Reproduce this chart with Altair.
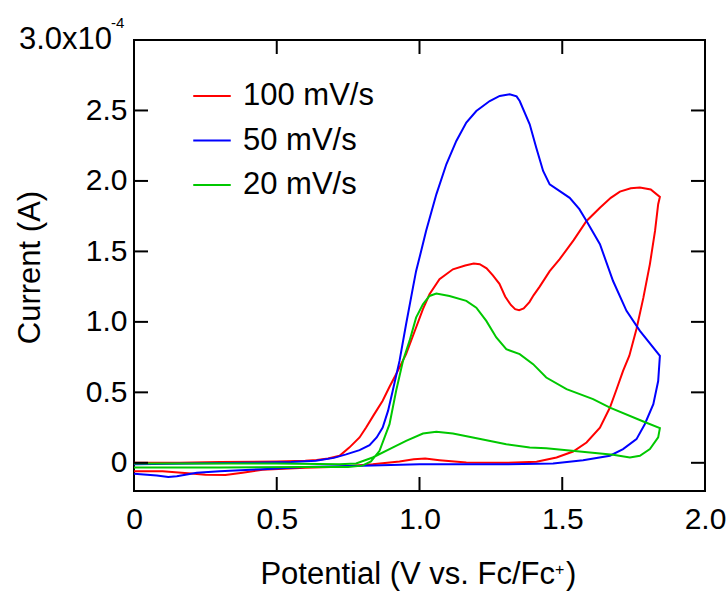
import altair as alt
import pandas as pd

# ---- data (current in units of 1e-4 A, potential in V vs Fc/Fc+) ----
series_names = ["100 mV/s", "50 mV/s", "20 mV/s"]
series_colors = ["#FF0000", "#0000FF", "#00C800"]

red_x = [0.00, 0.16, 0.30, 0.50, 0.60, 0.64, 0.68, 0.72, 0.754, 0.79, 0.813, 0.84, 0.871, 0.895,
         0.918, 0.953, 0.988, 1.012, 1.035, 1.07, 1.117, 1.16, 1.19, 1.211, 1.235, 1.257, 1.28,
         1.30, 1.32, 1.335, 1.349, 1.365, 1.385, 1.40, 1.421, 1.456, 1.491, 1.54, 1.585, 1.632,
         1.67, 1.702, 1.74, 1.772, 1.81, 1.842,
         1.836, 1.825, 1.807, 1.784, 1.76, 1.735, 1.713, 1.69, 1.667, 1.632, 1.585, 1.538,
         1.48, 1.41, 1.30, 1.164, 1.07, 1.02, 0.98, 0.93, 0.836, 0.72, 0.60, 0.45, 0.38, 0.32,
         0.25, 0.20, 0.10, 0.00]
red_y = [0.00, 0.00, 0.005, 0.01, 0.015, 0.02, 0.03, 0.05, 0.108, 0.18, 0.25, 0.34, 0.44, 0.54,
         0.629, 0.771, 0.96, 1.09, 1.196, 1.303, 1.373, 1.40, 1.414, 1.409, 1.38, 1.33, 1.27,
         1.18, 1.12, 1.09, 1.083, 1.095, 1.14, 1.19, 1.25, 1.36, 1.445, 1.58, 1.716, 1.81,
         1.88, 1.924, 1.948, 1.953, 1.94, 1.887,
         1.835, 1.645, 1.41, 1.17, 0.95, 0.76, 0.652, 0.52, 0.392, 0.25, 0.144, 0.08,
         0.038, 0.007, 0.0, 0.002, 0.019, 0.03, 0.025, 0.01, -0.01, -0.028, -0.035, -0.05, -0.07, -0.087,
         -0.085, -0.075, -0.06, -0.06]

blue_x = [0.00, 0.20, 0.40, 0.55, 0.637, 0.70, 0.743, 0.79, 0.825, 0.85, 0.871, 0.89, 0.906, 0.93,
          0.953, 0.977, 0.988, 1.006, 1.023, 1.059, 1.094, 1.129, 1.164, 1.199, 1.246, 1.281,
          1.316, 1.34, 1.351, 1.386, 1.409, 1.433, 1.456, 1.49, 1.526, 1.56, 1.585, 1.632,
          1.678, 1.725, 1.772, 1.842,
          1.836, 1.819, 1.789, 1.76, 1.713, 1.667, 1.573, 1.468, 1.30, 1.00, 0.80, 0.60, 0.45,
          0.30, 0.22, 0.15, 0.12, 0.08, 0.00]
blue_y = [-0.01, -0.005, 0.0, 0.005, 0.015, 0.035, 0.06, 0.09, 0.125, 0.18, 0.25, 0.37, 0.51, 0.723,
          0.983, 1.243, 1.36, 1.504, 1.645, 1.905, 2.118, 2.284, 2.414, 2.496, 2.567, 2.603,
          2.615, 2.60, 2.567, 2.402, 2.236, 2.071, 1.976, 1.93, 1.88, 1.80, 1.716, 1.551,
          1.29, 1.078, 0.936, 0.759,
          0.58, 0.416, 0.274, 0.168, 0.097, 0.05, 0.019, -0.005, -0.01, -0.01, -0.02, -0.03, -0.045,
          -0.06, -0.07, -0.095, -0.10, -0.09, -0.078]

green_x = [0.00, 0.30, 0.60, 0.75, 0.80, 0.83, 0.86, 0.895, 0.918, 0.942, 0.965, 0.988, 1.012,
           1.035, 1.059, 1.105, 1.164, 1.199, 1.234, 1.269, 1.304, 1.351, 1.398, 1.444, 1.515,
           1.608, 1.667, 1.784, 1.842,
           1.836, 1.807, 1.772, 1.737, 1.678, 1.561, 1.444, 1.386, 1.304, 1.187, 1.117, 1.059,
           1.012, 0.953, 0.895, 0.836, 0.778, 0.719, 0.50, 0.30, 0.00]
green_y = [-0.033, -0.033, -0.03, -0.03, -0.02, 0.01, 0.085, 0.274, 0.51, 0.723, 0.865, 1.03, 1.125,
           1.184, 1.201, 1.184, 1.149, 1.101, 1.007, 0.889, 0.806, 0.771, 0.70, 0.605, 0.523,
           0.452, 0.392, 0.293, 0.246,
           0.18, 0.097, 0.05, 0.038, 0.057, 0.08, 0.104, 0.108, 0.132, 0.18, 0.208, 0.22,
           0.208, 0.156, 0.097, 0.038, -0.005, -0.01, -0.005, -0.005, -0.005]

x_tick_values = [0.0, 0.5, 1.0, 1.5, 2.0]
x_inner_ticks = [0.5, 1.0, 1.5]
y_tick_values = [0.0, 0.5, 1.0, 1.5, 2.0, 2.5]

rows = []
for name, xs_, ys_ in zip(series_names, [red_x, blue_x, green_x], [red_y, blue_y, green_y]):
    for i, (a, b) in enumerate(zip(xs_, ys_)):
        rows.append({"series": name, "order": i, "potential": a, "current": b})
df = pd.DataFrame(rows)

W, H = 571, 451
FONT = "Liberation Sans"
TICK = 14

xscale = alt.Scale(domain=[0, 2.0], nice=False, zero=False)
yscale = alt.Scale(domain=[-0.2, 3.0], nice=False, zero=False)
lab = "datum.value == 0 ? '0' : format(datum.value, '.1f')"

lines = alt.Chart(df).mark_line(strokeWidth=2, clip=True).encode(
    x=alt.X("potential:Q", scale=xscale,
            axis=alt.Axis(values=x_tick_values, labelExpr=lab, title=None, ticks=False, tickSize=0,
                          domain=False, grid=False, labelFontSize=30, labelFont=FONT,
                          labelColor="black", labelPadding=13, labelFlush=False)),
    y=alt.Y("current:Q", scale=yscale,
            axis=alt.Axis(values=y_tick_values, labelExpr=lab, title="Current (A)", ticks=False,
                          tickSize=0, domain=False, grid=False, labelFontSize=30, labelFont=FONT,
                          labelColor="black", labelPadding=7, labelFlush=False,
                          titleFont=FONT, titleFontSize=31, titleFontWeight="normal",
                          titleColor="black", titleX=-104, titleY=227, titleAngle=270,
                          titleAlign="center", titleBaseline="middle")),
    color=alt.Color("series:N", scale=alt.Scale(domain=series_names, range=series_colors),
                    legend=alt.Legend(orient="none", legendX=58, legendY=36, title=None,
                                      symbolType="stroke", symbolSize=1406, symbolStrokeWidth=2,
                                      labelFontSize=31, labelFont=FONT, labelColor="black",
                                      labelOffset=11, rowPadding=9.5, padding=0, labelLimit=0)),
    order="order:Q",
    detail="series:N",
)

ytick_df = pd.DataFrame({"v": y_tick_values})
xtick_df = pd.DataFrame({"v": x_inner_ticks})

left_ticks = alt.Chart(ytick_df).mark_rule(color="black", strokeWidth=2).encode(
    y=alt.Y("v:Q", scale=yscale), x=alt.value(0), x2=alt.value(TICK))
right_ticks = alt.Chart(ytick_df).mark_rule(color="black", strokeWidth=2).encode(
    y=alt.Y("v:Q", scale=yscale), x=alt.value(W - TICK), x2=alt.value(W))
bottom_ticks = alt.Chart(xtick_df).mark_rule(color="black", strokeWidth=2).encode(
    x=alt.X("v:Q", scale=xscale), y=alt.value(H - TICK), y2=alt.value(H))
top_ticks = alt.Chart(xtick_df).mark_rule(color="black", strokeWidth=2).encode(
    x=alt.X("v:Q", scale=xscale), y=alt.value(0), y2=alt.value(TICK))

ann = pd.DataFrame({"t": [0]})
top_label = alt.Chart(ann).mark_text(text="3.0x10", align="right", baseline="alphabetic",
                                     fontSize=31, font=FONT, color="black").encode(
    x=alt.value(112 - 134), y=alt.value(48.5 - 40))
top_sup = alt.Chart(ann).mark_text(text="-4", align="left", baseline="alphabetic",
                                   fontSize=15, font=FONT, color="black").encode(
    x=alt.value(111 - 134), y=alt.value(28 - 40))
xtitle_main = alt.Chart(ann).mark_text(text="Potential (V vs. Fc/Fc", align="right",
                                       baseline="alphabetic", fontSize=31, font=FONT,
                                       color="black").encode(
    x=alt.value(555 - 134), y=alt.value(584 - 40))
xtitle_sup = alt.Chart(ann).mark_text(text="+", align="left", baseline="alphabetic",
                                      fontSize=16, font=FONT, color="black").encode(
    x=alt.value(555 - 134), y=alt.value(575 - 40))
xtitle_end = alt.Chart(ann).mark_text(text=")", align="left", baseline="alphabetic",
                                      fontSize=31, font=FONT, color="black").encode(
    x=alt.value(566 - 134), y=alt.value(584 - 40))

chart = alt.layer(
    lines, left_ticks, right_ticks, bottom_ticks, top_ticks,
    top_label, top_sup, xtitle_main, xtitle_sup, xtitle_end,
).properties(
    width=W, height=H,
    autosize=alt.AutoSizeParams(type="none"),
    padding={"left": 134, "top": 40, "right": 22, "bottom": 101},
    background="white",
).configure_view(stroke="black", strokeWidth=2)

chart.save("out.html", embed_options={"renderer": "svg", "actions": False})
